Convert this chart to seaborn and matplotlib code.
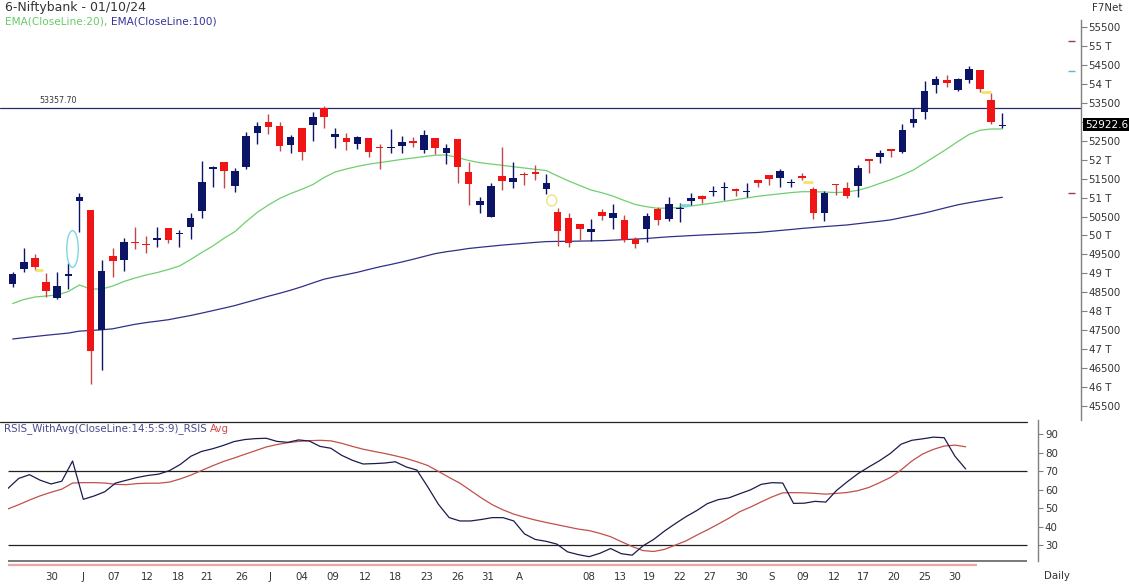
import numpy as np
import pandas as pd
import matplotlib
matplotlib.use("Agg")
import matplotlib.pyplot as plt
import matplotlib.transforms as mtransforms
from matplotlib.patches import Ellipse
from matplotlib.lines import Line2D
import seaborn as sns

# ---------------- data ----------------
opens = [48711, 49115, 49397, 48780, 48342, 48922, 50917, 50672, 47505, 49458,
         49352, 49835, 49782, 49880, 50189, 50038, 50231, 50645, 51753, 51930,
         51313, 51798, 52695, 53001, 52888, 52387, 52827, 52914, 53355, 52590,
         52563, 52413, 52563, 52342, 52315, 52368, 52492, 52255, 52563, 52168,
         52537, 51666, 50804, 50495, 51569, 51402, 51621, 51682, 51218, 50611,
         50453, 50302, 50091, 50627, 50453, 50408, 49899, 50162, 50698, 50434,
         50698, 50909, 51049, 51139, 51244, 51234, 51139, 51463, 51595, 51508,
         51384, 51577, 51218, 50585, 51358, 51244, 51313, 52009, 52062, 52281,
         52210, 52959, 53265, 53970, 54102, 53838, 54102, 54365, 53574, 52880]
highs = [49044, 49661, 49511, 49001, 49028, 49265, 51112, 50680, 49352, 49661,
         49941, 50231, 49986, 50215, 50200, 50144, 50585, 51964, 51840, 51938,
         51772, 52738, 52986, 53197, 53001, 52650, 52835, 53265, 53416, 52827,
         52695, 52624, 52571, 52405, 52809, 52632, 52606, 52782, 52579, 52405,
         52545, 51930, 51007, 51392, 52342, 51946, 51682, 51859, 51613, 50716,
         50585, 50310, 50426, 50698, 50822, 50540, 49967, 50600, 50751, 51023,
         50856, 51112, 51070, 51313, 51402, 51252, 51376, 51470, 51600, 51746,
         51490, 51640, 51286, 51181, 51365, 51402, 51859, 52017, 52255, 52290,
         52933, 53371, 54075, 54207, 54234, 54146, 54471, 54375, 53751, 53239]
lows = [48648, 49044, 49088, 48384, 48316, 48579, 50099, 46081, 46450, 48912,
        49070, 49643, 49545, 49703, 49809, 49703, 49906, 50453, 51286, 51244,
        51139, 51746, 52405, 52669, 52236, 52168, 51991, 52492, 52827, 52300,
        52255, 52281, 52078, 51753, 52168, 52168, 52342, 52168, 52141, 51877,
        51376, 50804, 50585, 50479, 51199, 51260, 51331, 51463, 51094, 49722,
        49687, 49880, 49854, 50408, 50162, 49835, 49661, 49835, 50276, 50389,
        50363, 50804, 50864, 51041, 50935, 51041, 51023, 51271, 51331, 51271,
        51271, 51463, 50434, 50381, 51067, 50980, 51023, 51640, 51920, 52078,
        52168, 52854, 53065, 53751, 53925, 53819, 54014, 53777, 52933, 52843]
closes = [48975, 49308, 49176, 48534, 48674, 48991, 51007, 46959, 49062, 49326,
          49819, 49801, 49740, 49925, 49880, 50073, 50453, 51418, 51814, 51709,
          51709, 52624, 52888, 52869, 52368, 52598, 52194, 53117, 53117, 52669,
          52474, 52590, 52210, 52300, 52342, 52474, 52431, 52650, 52300, 52315,
          51798, 51358, 50909, 51313, 51437, 51508, 51587, 51613, 51376, 50125,
          49793, 50162, 50162, 50521, 50585, 49880, 49767, 50513, 50408, 50822,
          50732, 50996, 50954, 51173, 51286, 51181, 51173, 51376, 51482, 51709,
          51402, 51508, 50600, 51128, 51323, 51041, 51788, 51972, 52183, 52228,
          52782, 53073, 53819, 54120, 54014, 54120, 54384, 53864, 53001, 52922.6]
ema20 = [48205, 48310, 48376, 48402, 48429, 48521, 48693, 48587, 48587, 48666,
         48785, 48877, 48957, 49022, 49102, 49194, 49365, 49550, 49722, 49925,
         50104, 50368, 50611, 50804, 50975, 51107, 51218, 51344, 51529, 51674,
         51753, 51822, 51880, 51922, 51964, 52007, 52044, 52081, 52117, 52123,
         52057, 51978, 51920, 51885, 51851, 51814, 51780, 51745, 51711, 51569,
         51437, 51318, 51199, 51125, 51036, 50922, 50817, 50759, 50716, 50724,
         50738, 50777, 50817, 50856, 50901, 50943, 50988, 51033, 51067, 51099,
         51131, 51154, 51154, 51147, 51131, 51147, 51191, 51271, 51376, 51474,
         51595, 51727, 51912, 52096, 52281, 52479, 52664, 52777, 52809, 52809]
ema100 = [47268, 47302, 47334, 47366, 47395, 47424, 47476, 47492, 47511, 47537,
          47598, 47656, 47701, 47738, 47777, 47833, 47888, 47951, 48017, 48083,
          48152, 48234, 48315, 48397, 48474, 48556, 48648, 48748, 48846, 48909,
          48967, 49028, 49102, 49173, 49234, 49300, 49371, 49447, 49521, 49571,
          49611, 49656, 49687, 49716, 49745, 49769, 49793, 49817, 49838, 49843,
          49846, 49851, 49856, 49862, 49875, 49891, 49904, 49920, 49943, 49964,
          49980, 49996, 50012, 50025, 50038, 50052, 50067, 50078, 50104, 50131,
          50157, 50186, 50210, 50234, 50255, 50276, 50310, 50344, 50376, 50413,
          50474, 50532, 50592, 50664, 50738, 50809, 50864, 50914, 50962, 51007]
rsi = [60.6, 66, 68, 65, 63, 64.5, 75.4, 54.7, 56.5, 58.8,
       63.5, 65, 66.5, 67.6, 68.3, 70.2, 73.5, 78, 80.6, 82,
       83.8, 85.9, 87, 87.5, 87.7, 86, 85.5, 86.8, 86.2, 83.3,
       82.3, 78.5, 75.8, 73.8, 74, 74.3, 75, 72.2, 70.5, 61.5,
       52, 44.8, 43, 43, 43.8, 44.8, 44.8, 43, 36, 33,
       32, 30.5, 26.3, 24.8, 23.7, 25.5, 28.1, 25.3, 24.5, 29.5,
       33, 37.5, 41.5, 45.3, 48.6, 52.4, 54.5, 55.5, 57.7, 59.8,
       62.8, 63.7, 63.5, 52.5, 52.6, 53.6, 53.2, 59.5, 64.2, 68.6,
       72.2, 75.6, 79.5, 84.5, 86.6, 87.4, 88.3, 88, 78, 71.1]
rsi_avg = [49.5, 51.8, 54.3, 56.6, 58.5, 60.2, 63.5, 63.7, 63.7, 63.5,
           62.8, 62.6, 63.2, 63.4, 63.4, 64, 65.7, 67.8, 70.3, 72.8,
           75.1, 77, 79, 81, 83, 84.3, 85.3, 86, 86.4, 86.6,
           86.3, 85, 83.3, 81.8, 80.6, 79.5, 78.2, 76.8, 75, 73,
           69.8, 66.5, 63.4, 59.4, 55.4, 51.8, 49, 46.7, 45, 43.5,
           42.2, 41, 39.8, 38.6, 37.8, 36.3, 34.5, 31.8, 29.2, 27,
           26.5, 27.6, 29.9, 32.2, 35.3, 38.2, 41.3, 44.5, 48, 50.5,
           53.3, 56, 58.2, 58.3, 58.2, 57.9, 57.5, 57.9, 58.4, 59.4,
           61.1, 63.7, 66.5, 70.6, 75.4, 79.2, 81.7, 83.5, 84, 83.1]
xtick_labels = ["30", "J", "07", "12", "18", "21", "26", "J", "04", "09", "12", "18",
                "23", "26", "31", "A", "08", "13", "19", "22", "27", "30", "S", "09",
                "12", "17", "20", "25", "30"]
xtick_slots = [4.09, 6.97, 9.85, 12.92, 15.80, 18.49, 21.75, 24.35, 27.32, 30.20,
               33.18, 35.97, 38.94, 41.82, 44.61, 47.49, 53.99, 56.88, 59.57, 62.45,
               65.24, 68.22, 71.00, 73.88, 76.77, 79.46, 82.34, 85.22, 88.01]
ref_level = 53357.70
last_close = 52922.6
rsi_levels = [70, 30]

df = pd.DataFrame({"idx": np.arange(len(closes)), "open": opens, "high": highs,
                   "low": lows, "close": closes, "ema20": ema20, "ema100": ema100})
rdf = pd.DataFrame({"idx": np.arange(len(rsi)), "rsi": rsi, "avg": rsi_avg})

# ---------------- styling ----------------
sns.set_theme(style="white")
plt.rcParams["font.family"] = ["DejaVu Sans"]

W, H = 1129, 584
fig = plt.figure(figsize=(W / 100, H / 100), dpi=100)
fig.patch.set_facecolor("white")

def fx(px):
    return px / W

def fy(py):
    return 1 - py / H

UP = "#0c1466"
DN = "#f01414"
DN_WICK = "#c24848"
TXT = "#333333"
AXC = "#808080"

# ---------------- main price panel ----------------
ax = fig.add_axes([0, fy(420), fx(1081), 420 / H])
ax.set_facecolor("white")
ax.set_xlim(-1.142, 96.07)
ax.set_ylim(45131, 56212)

up = df["close"] >= df["open"]
body_lo = np.minimum(df["open"], df["close"])
body_h = np.maximum(np.abs(df["close"] - df["open"]), 30)
ax.vlines(df["idx"], df["low"], df["high"],
          colors=np.where(up, UP, DN_WICK), linewidth=1.0, zorder=3)
ax.bar(df["idx"], body_h, bottom=body_lo, width=0.68,
       color=np.where(up, UP, DN), linewidth=0, zorder=4)

sns.lineplot(data=df, x="idx", y="ema20", ax=ax, color="#6fcf6f", linewidth=0.9,
             legend=False, zorder=2)
sns.lineplot(data=df, x="idx", y="ema100", ax=ax, color="#303088", linewidth=0.9,
             legend=False, zorder=2)

ax.axhline(ref_level, color="#2a2a70", linewidth=0.9, zorder=1)
ax.annotate(f"{ref_level:.2f}", xy=(2.4, ref_level), xytext=(0, 2.5),
            textcoords="offset points", ha="left", va="bottom",
            fontsize=5.7, color=TXT)

# small drawing annotations
ax.add_patch(Ellipse((5.38, 49642), 1.04, 968, fill=False, edgecolor="#7fd6e0",
                     linewidth=1.0, zorder=5))
ax.add_patch(Ellipse((48.47, 50922), 0.9, 290, fill=False, edgecolor="#eee27a",
                     linewidth=1.0, zorder=5))
for (x0, x1, yv, c) in [(2.0, 2.73, 49088, "#f2e36a"), (60.0, 60.9, 50804, "#7fd6e0"),
                        (71.1, 72.0, 51418, "#f2e36a"), (87.1, 88.0, 53793, "#f2e36a")]:
    ax.hlines(yv, x0, x1, colors=c, linewidth=2.0, zorder=5)
for (yv, c) in [(55130, "#a04040"), (54339, "#5fb8c8"), (51120, "#a04040")]:
    ax.hlines(yv, 94.9, 95.55, colors=c, linewidth=1.0, zorder=5)

for s in ["left", "top", "bottom"]:
    ax.spines[s].set_visible(False)
ax.spines["right"].set_color(AXC)
ax.spines["right"].set_linewidth(1.0)
ax.spines["right"].set_bounds(45131, 55690)
ax.yaxis.tick_right()
yt = np.arange(45500, 55501, 500)
ax.set_yticks(yt)
# the 53 T label is hidden behind the last-price box in the reference
ax.set_yticklabels(["" if v == 53000 else (f"{v // 1000} T" if v % 1000 == 0 else f"{v}")
                    for v in yt])
ax.tick_params(axis="y", right=True, direction="out", length=4, width=0.8,
               color=AXC, labelsize=7.4, labelcolor=TXT, pad=1.5)
ax.set_xticks([])
ax.set_xlabel("")
ax.set_ylabel("")

# last price box
tr = mtransforms.blended_transform_factory(fig.transFigure, ax.transData)
ax.text(fx(1085), last_close, f"{last_close:.1f}", transform=tr, ha="left",
        va="center", fontsize=7.6, color="white", clip_on=False,
        bbox=dict(facecolor="black", edgecolor="none", pad=1.2), zorder=10)

# ---------------- RSI panel ----------------
rax = fig.add_axes([fx(8), fy(568), fx(1038) - fx(8), (568 - 422) / H])
rax.set_facecolor("none")
rax.set_xlim(0, 95.72)
rax.set_ylim(17.57, 96.49)
sns.lineplot(data=rdf, x="idx", y="avg", ax=rax, color="#c0504d", linewidth=0.9,
             legend=False, zorder=3)
sns.lineplot(data=rdf, x="idx", y="rsi", ax=rax, color="#1c1c4c", linewidth=0.9,
             legend=False, zorder=4)
rax.hlines(rsi_levels, 0, 94.7, colors="#222222", linewidth=0.9, zorder=2)
rax.hlines(21.35, 0, 94.7, colors="#555555", linewidth=1.1, zorder=2)
rax.hlines(19.2, 0, 90.05, colors="#e8a6a6", linewidth=1.6, zorder=2)

for s in ["left", "top", "bottom"]:
    rax.spines[s].set_visible(False)
rax.spines["right"].set_color(AXC)
rax.spines["right"].set_linewidth(1.0)
rax.spines["right"].set_bounds(21.35, 97.5)
rax.yaxis.tick_right()
rax.set_yticks([30, 40, 50, 60, 70, 80, 90])
rax.tick_params(axis="y", right=True, direction="out", length=3.5, width=0.8,
                color=AXC, labelsize=7.4, labelcolor=TXT, pad=1.5)
rax.set_xticks(xtick_slots)
rax.set_xticklabels(xtick_labels)
rax.tick_params(axis="x", bottom=True, length=0, labelsize=7.4, labelcolor=TXT, pad=3)
rax.set_xlabel("")
rax.set_ylabel("")

# separator line on top of RSI panel
fig.add_artist(Line2D([fx(0), fx(1027)], [fy(422), fy(422)], color="#222222",
                      linewidth=0.9))

# ---------------- texts ----------------
fig.text(fx(5), fy(8), "6-Niftybank - 01/10/24", ha="left", va="center",
         fontsize=9.0, color=TXT)
t1 = fig.text(fx(5), fy(21), "EMA(CloseLine:20), ", ha="left", va="center",
              fontsize=7.6, color="#66cc66")
fig.canvas.draw()
bb = t1.get_window_extent()
fig.text(bb.x1 / W, fy(21), "EMA(CloseLine:100)", ha="left", va="center",
         fontsize=7.6, color="#34349a")
fig.text(fx(1107), fy(8), "F7Net", ha="center", va="center", fontsize=7.4, color=TXT)

t2 = fig.text(fx(4), fy(429), "RSIS_WithAvg(CloseLine:14:5:S:9)_RSIS", ha="left",
              va="center", fontsize=7.4, color="#4a4a8c")
fig.canvas.draw()
bb2 = t2.get_window_extent()
fig.text(bb2.x1 / W + fx(3), fy(429), "Avg", ha="left", va="center", fontsize=7.4,
         color="#d04a4a")
fig.text(fx(1057), fy(576), "Daily", ha="center", va="center", fontsize=7.4,
         color=TXT)

fig.savefig("out.png", dpi=100, facecolor="white")
